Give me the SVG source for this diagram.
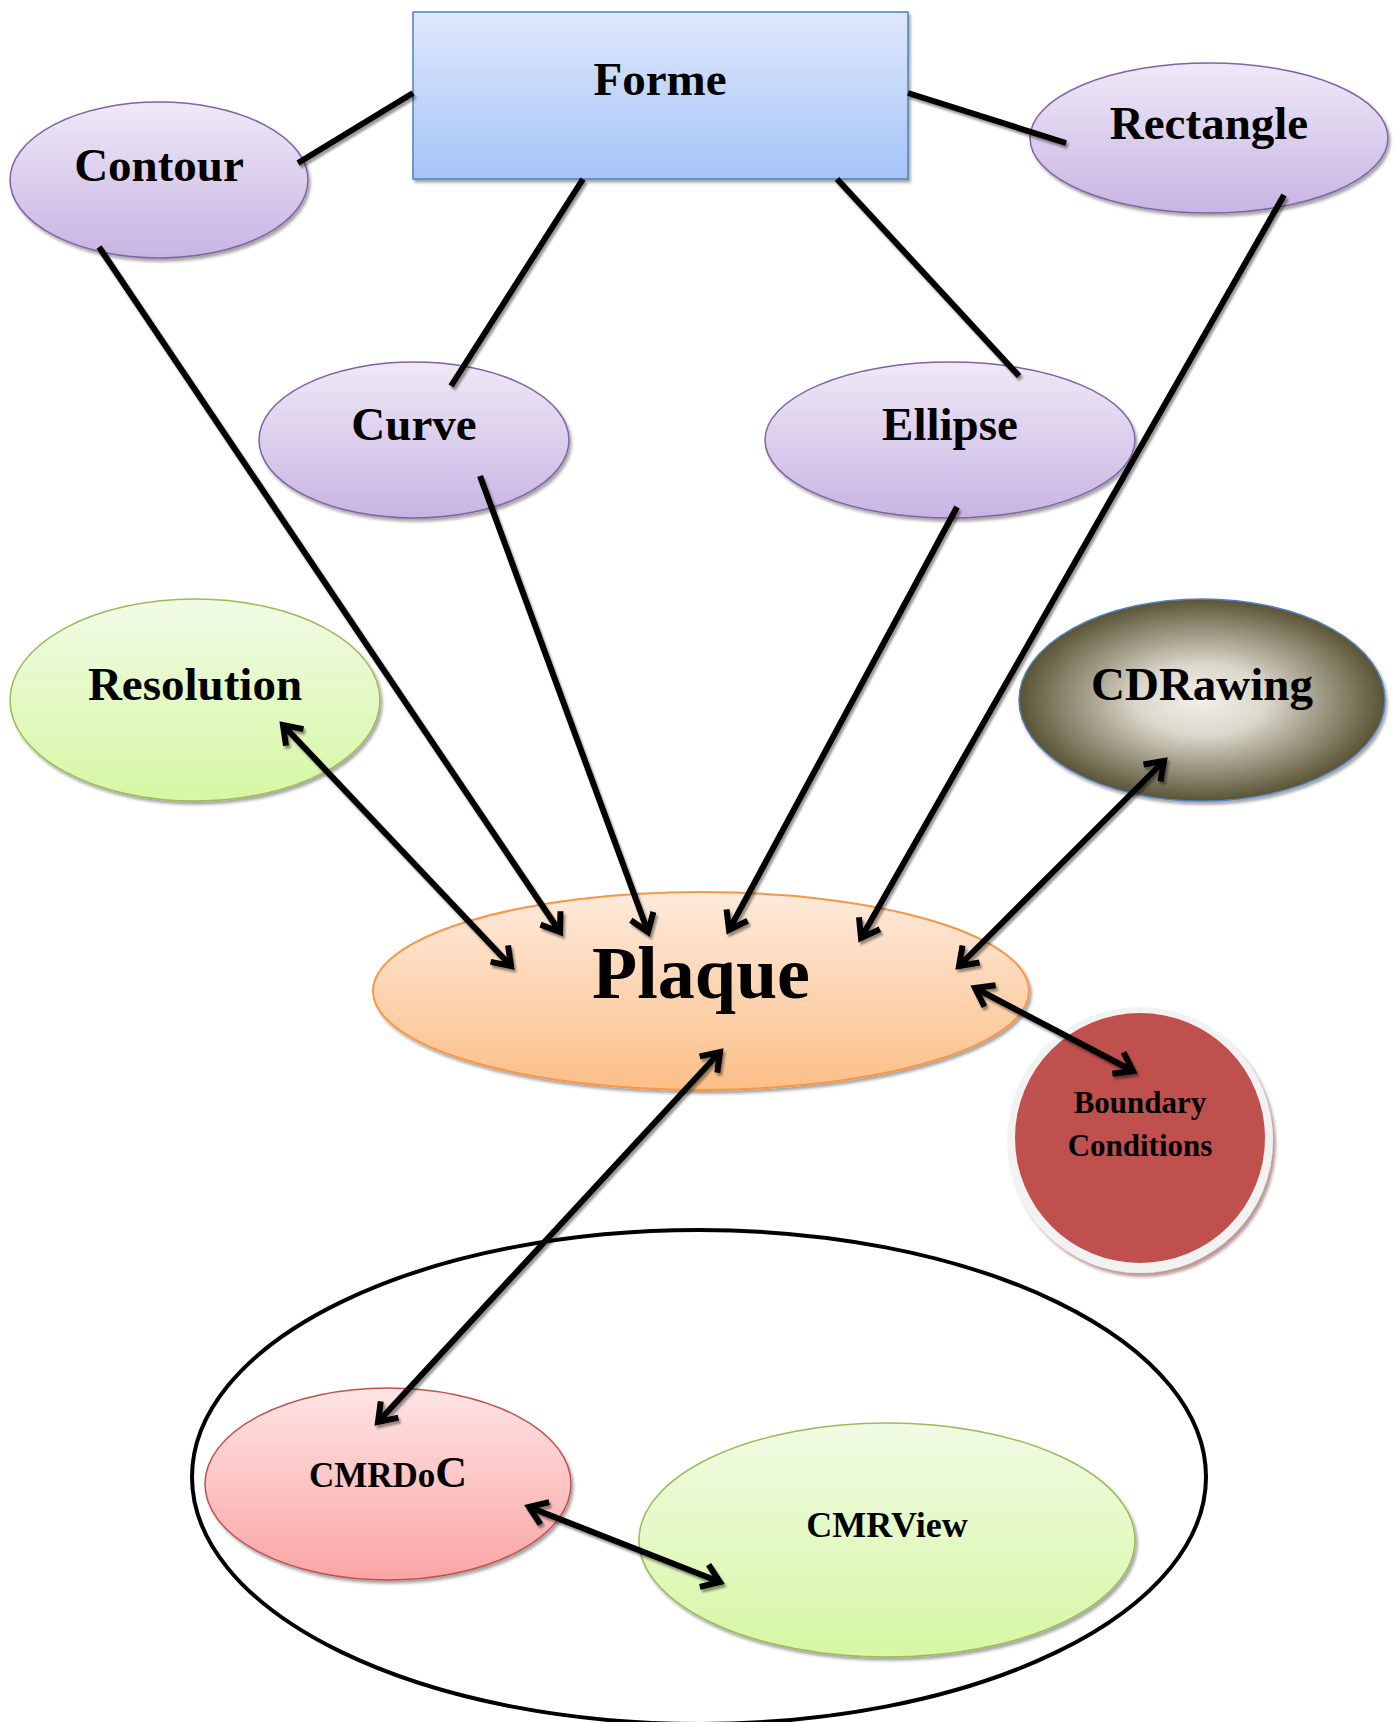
<svg xmlns="http://www.w3.org/2000/svg" width="1397" height="1722" viewBox="0 0 1397 1722">
<defs>
<linearGradient id="gBlue" x1="0" y1="0" x2="0" y2="1"><stop offset="0" stop-color="#dfe8fc"/><stop offset="1" stop-color="#a5c4f7"/></linearGradient>
<linearGradient id="gPurple" x1="0" y1="0" x2="0" y2="1"><stop offset="0" stop-color="#efe9f7"/><stop offset="1" stop-color="#c8b4e3"/></linearGradient>
<linearGradient id="gGreen" x1="0" y1="0" x2="0" y2="1"><stop offset="0" stop-color="#f1fbe5"/><stop offset="1" stop-color="#d6f7a3"/></linearGradient>
<linearGradient id="gOrange" x1="0" y1="0" x2="0" y2="1"><stop offset="0" stop-color="#feeadb"/><stop offset="1" stop-color="#fcbf88"/></linearGradient>
<linearGradient id="gPink" x1="0" y1="0" x2="0" y2="1"><stop offset="0" stop-color="#fee4e4"/><stop offset="1" stop-color="#fba5a5"/></linearGradient>
<radialGradient id="gOlive" cx="0.5" cy="0.5" r="0.5"><stop offset="0" stop-color="#f2efe8"/><stop offset="0.35" stop-color="#dcd8cc"/><stop offset="1" stop-color="#5a5435"/></radialGradient>
<filter id="sh" x="-10%" y="-10%" width="130%" height="130%"><feDropShadow dx="2" dy="3" stdDeviation="1.5" flood-color="#000" flood-opacity="0.35"/></filter>
<filter id="lsh" x="-10%" y="-10%" width="130%" height="130%"><feDropShadow dx="2" dy="3" stdDeviation="1" flood-color="#000" flood-opacity="0.4"/></filter>
<filter id="rsh" x="-10%" y="-10%" width="130%" height="130%"><feDropShadow dx="3" dy="4" stdDeviation="1.5" flood-color="#8a4a48" flood-opacity="0.55"/></filter>
<marker id="ah" viewBox="-24 -16 30 32" refX="0" refY="0" markerWidth="30" markerHeight="32" markerUnits="userSpaceOnUse" orient="auto-start-reverse">
<path d="M-17,-12 L0,0 L-17,12" fill="none" stroke="#000" stroke-width="6"/>
</marker>
<style>
text{font-family:"Liberation Serif","Times New Roman",serif;font-weight:bold;fill:#000;text-anchor:middle}
.l{stroke:#000;stroke-width:6;fill:none}
.a{marker-end:url(#ah)}
.d{marker-start:url(#ah);marker-end:url(#ah)}
.pur{fill:url(#gPurple);stroke:#8064a2;stroke-width:1.5;filter:url(#sh)}
.grn{fill:url(#gGreen);stroke:#9bbb59;stroke-width:1.5;filter:url(#sh)}
</style>
</defs>
<rect width="1397" height="1722" fill="#fff"/>
<g id="group-outer">
<ellipse cx="699" cy="1477" rx="507" ry="247" fill="none" stroke="#000" stroke-width="4"/>
</g>
<g id="forme">
<rect x="413" y="12" width="495" height="167" fill="url(#gBlue)" stroke="#4f81bd" stroke-width="1.5" filter="url(#sh)"/>
<text x="660" y="95" font-size="47">Forme</text>
</g>
<g id="contour">
<ellipse cx="159" cy="180" rx="149" ry="78" class="pur"/>
<text x="159" y="181" font-size="47">Contour</text>
</g>
<g id="rectangle">
<ellipse cx="1209" cy="138" rx="179" ry="75" class="pur"/>
<text x="1209" y="139" font-size="47">Rectangle</text>
</g>
<g id="curve">
<ellipse cx="414" cy="440" rx="155" ry="78" class="pur"/>
<text x="414" y="440" font-size="47">Curve</text>
</g>
<g id="ellipse">
<ellipse cx="950" cy="440" rx="185" ry="78" class="pur"/>
<text x="950" y="440" font-size="47">Ellipse</text>
</g>
<g id="resolution">
<ellipse cx="195" cy="700" rx="185" ry="101" class="grn"/>
<text x="195" y="700" font-size="47">Resolution</text>
</g>
<g id="cdrawing">
<ellipse cx="1202" cy="700" rx="183" ry="101" fill="url(#gOlive)" stroke="#4f81bd" stroke-width="1.5" filter="url(#sh)"/>
<text x="1202" y="700" font-size="47">CDRawing</text>
</g>
<g id="plaque">
<ellipse cx="701" cy="991" rx="328" ry="99" fill="url(#gOrange)" stroke="#f79646" stroke-width="2" filter="url(#sh)"/>
<text x="701" y="998" font-size="74">Plaque</text>
</g>
<g id="boundary">
<circle cx="1140" cy="1140" r="133" fill="#f2f2f2" filter="url(#rsh)"/>
<circle cx="1140" cy="1138" r="125" fill="#c0504d"/>
<text x="1140" y="1113" font-size="31">Boundary</text>
<text x="1140" y="1156" font-size="31">Conditions</text>
</g>
<g id="cmrdoc">
<ellipse cx="388" cy="1484" rx="183" ry="96" fill="url(#gPink)" stroke="#c0504d" stroke-width="1.5" filter="url(#sh)"/>
<text x="388" y="1487" font-size="35">CMRDo<tspan font-size="44">C</tspan></text>
</g>
<g id="cmrview">
<ellipse cx="887" cy="1540" rx="248" ry="117" class="grn"/>
<text x="887" y="1537" font-size="36">CMRView</text>
</g>
<g id="connectors" filter="url(#lsh)">
<line class="l" x1="298" y1="163" x2="413" y2="93"/>
<line class="l" x1="583" y1="179" x2="451" y2="386"/>
<line class="l" x1="837" y1="179" x2="1019" y2="376"/>
<line class="l" x1="908" y1="93" x2="1066" y2="143"/>
<line class="l a" x1="99" y1="247" x2="560" y2="932"/>
<line class="l a" x1="480" y1="476" x2="648" y2="932"/>
<line class="l a" x1="957" y1="507" x2="729" y2="930"/>
<line class="l a" x1="1284" y1="195" x2="861" y2="938"/>
<line class="l d" x1="283" y1="725" x2="511" y2="966"/>
<line class="l d" x1="1164" y1="761" x2="959" y2="966"/>
<line class="l d" x1="975" y1="988" x2="1133" y2="1071"/>
<line class="l d" x1="720" y1="1052" x2="378" y2="1422"/>
<line class="l d" x1="529" y1="1507" x2="720" y2="1582"/>
</g>
</svg>
